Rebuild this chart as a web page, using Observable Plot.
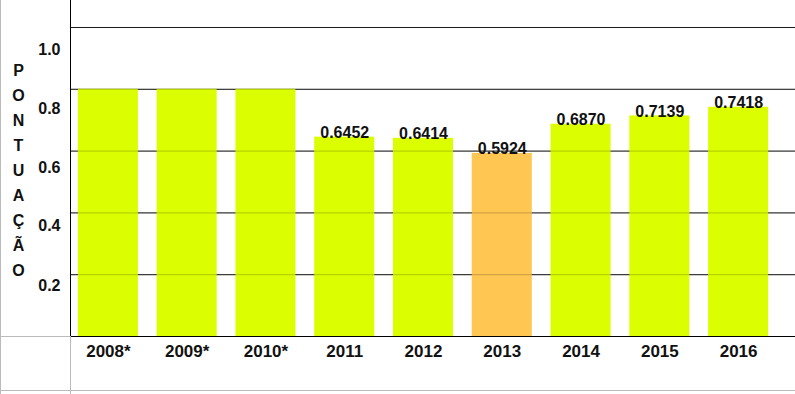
<!DOCTYPE html>
<html><head><meta charset="utf-8">
<script src="https://cdn.jsdelivr.net/npm/d3@7"></script>
<script src="https://cdn.jsdelivr.net/npm/@observablehq/plot@0.6"></script>
<style>
body{margin:0;background:#fff;}
#chart svg{font-family:"Liberation Sans",Arial,sans-serif;font-weight:bold;color:#111;background:#fff;}
</style>
</head><body><div id="chart"></div>
<script>
const years = ["2008*","2009*","2010*","2011","2012","2013","2014","2015","2016"];
const scores = [0.8,0.8,0.8,0.6452,0.6414,0.5924,0.6870,0.7139,0.7418];
const valueLabels = [null,null,null,"0.6452","0.6414","0.5924","0.6870","0.7139","0.7418"];
const highlighted = [false,false,false,false,false,true,false,false,false];
const yTicks = [0.2,0.4,0.6,0.8,1.0];
const yTickShift = [11,13,17,20,22];
const axisTitle = "PONTUAÇÃO";

const data = years.map((y,i)=>({year:y, score:scores[i], label:valueLabels[i], hl:highlighted[i]}));
const font = {fontSize:16, fontWeight:"bold"};

const plot = Plot.plot({
  width:795, height:394,
  marginLeft:70, marginRight:0, marginTop:0, marginBottom:58,
  style:{fontFamily:"Liberation Sans, Arial, sans-serif"},
  x:{domain:years, range:[70,776], paddingInner:0.238, paddingOuter:0.1, round:false, label:null},
  y:{domain:[0,1], range:[336,27], label:null},
  marks:[
    Plot.ruleY(yTicks, {stroke:"#222"}),
    Plot.barY(data, {x:"year", y:"score", fill:d=>d.hl?"#FFC652":"#DCFF00"}),
    Plot.ruleY(yTicks, {stroke:"#000", strokeOpacity:0.22}),
    Plot.text(data.filter(d=>d.label), {x:"year", y:"score", text:"label", lineAnchor:"bottom", dy:1, fill:"#111", ...font}),
    Plot.axisX({tickSize:0, tickPadding:8, label:null, fill:"#111", fontSize:17, fontWeight:"bold"}),
    ...yTicks.map((t,i)=>Plot.axisY([t], {tickSize:0, tickPadding:10, dy:yTickShift[i], tickFormat:d3.format(".1f"), label:null, fill:"#111", ...font})),
    Plot.frame({anchor:"left", stroke:"#000"}),
    Plot.frame({anchor:"bottom", stroke:"#000"}),
    Plot.text([axisTitle.split("").join("\n")], {text:d=>d, frameAnchor:"left", dx:-52, dy:-0.5, lineHeight:1.56, textAnchor:"middle", fill:"#111", ...font})
  ]
});
document.getElementById("chart").appendChild(plot);

// table-like gray cell borders around the chart
const svg = d3.select(plot);
const y0 = plot.scale("y").apply(0);
const W = 795, H = 394, L = 70;
const g = svg.append("g").attr("stroke","#bbb").attr("stroke-width",1);
g.append("line").attr("x1",0.5).attr("x2",0.5).attr("y1",0).attr("y2",H);
g.append("line").attr("x1",0).attr("x2",L).attr("y1",y0+0.5).attr("y2",y0+0.5);
g.append("line").attr("x1",L+0.5).attr("x2",L+0.5).attr("y1",y0).attr("y2",H);
g.append("line").attr("x1",0).attr("x2",W).attr("y1",H-3.5).attr("y2",H-3.5);
</script>
</body></html>
